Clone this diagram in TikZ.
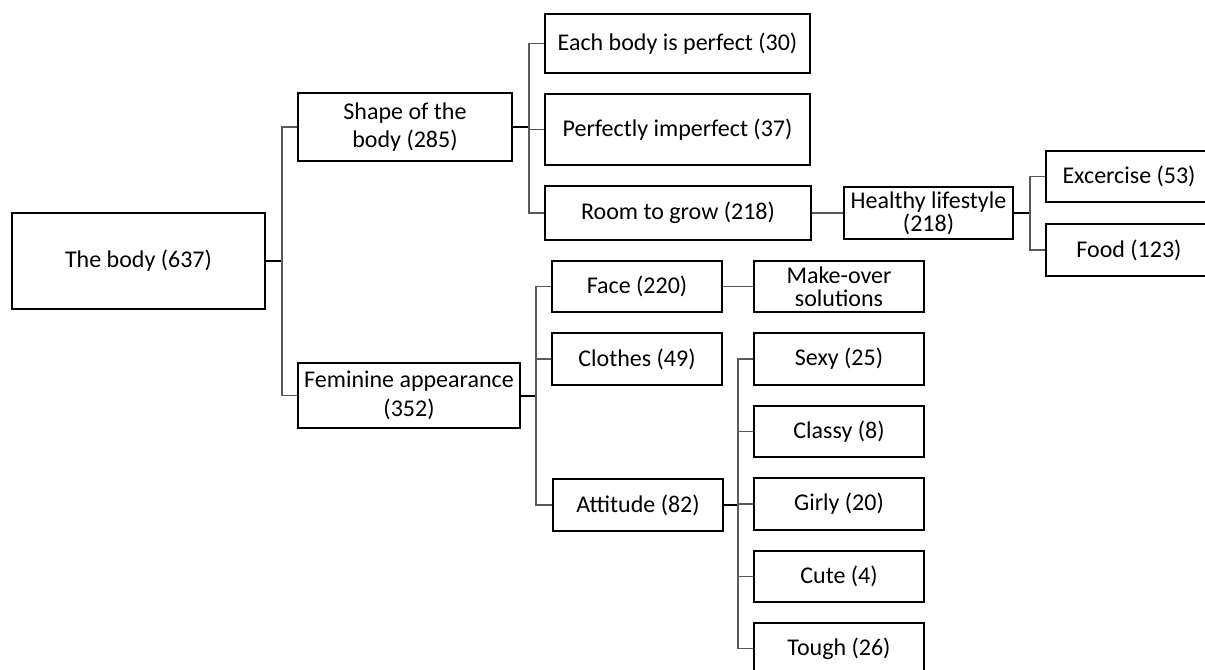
\documentclass[tikz,border=0pt]{standalone}
\usepackage{fontspec}
\setmainfont{Carlito}
\usetikzlibrary{positioning}
\definecolor{cline}{HTML}{595959}
\tikzset{
  every picture/.style={font=\fontsize{18}{21.5}\selectfont},
  box/.style={draw=black, fill=white, line width=1.5pt, align=center, inner sep=1pt},
  leaf/.style={box, minimum width=127.5pt, minimum height=38.5pt},
  wide/.style={box, minimum width=199pt},
  tight/.style={font=\fontsize{18}{17.5}\selectfont},
  stub/.style={draw=black, line width=1.5pt},
  branch/.style={draw=cline, line width=1pt},
}

\begin{document}
\begin{tikzpicture}[x=0.75pt, y=-0.75pt]
  \useasboundingbox (0,0) rectangle (1205,670);
  % root and first level
  \node[box, minimum width=189.75pt, minimum height=72pt] (body) at (138.5,261) {The body (637)};
  \node[box, minimum width=160.5pt, minimum height=51pt] (shape) at (405,127) {Shape of the\\body (285)};
  \node[box, minimum width=166.5pt, minimum height=48.75pt] (fem) at (409,395.5) {Feminine appearance\\(352)};
  \coordinate (j1) at (282,261);
  \draw[stub] (body) -- (j1);
  \draw[branch] (j1) |- (shape.west); \draw[branch] (j1) |- (fem.west);
  % shape of the body
  \node[wide, minimum height=44.25pt] (each) at (677.5,43.5) {Each body is perfect (30)};
  \node[wide, minimum height=53.25pt] (perf) at (677.5,129.5) {Perfectly imperfect (37)};
  \node[wide, minimum height=40.5pt] (room) at (678,213) {Room to grow (218)};
  \coordinate (j2) at (529,127);
  \draw[stub] (shape) -- (j2);
  \draw[branch] (j2) |- (each.west); \draw[branch] (j2) |- (perf.west); \draw[branch] (j2) |- (room.west);
  \node[box, tight, minimum width=126.75pt, minimum height=39pt] (healthy) at (928.5,213) {Healthy lifestyle\\(218)};
  \draw[branch] (room) -- (healthy);
  \node[box, minimum width=124.5pt, minimum height=38.5pt] (exc) at (1129,176.5) {Excercise (53)};
  \node[box, minimum width=124.5pt, minimum height=39pt] (food) at (1129,250) {Food (123)};
  \coordinate (j3) at (1030,213);
  \draw[stub] (healthy) -- (j3);
  \draw[branch] (j3) |- (exc.west); \draw[branch] (j3) |- (food.west);
  % feminine appearance
  \node[leaf] (face) at (637,286.5) {Face (220)};
  \node[leaf] (clothes) at (637,359) {Clothes (49)};
  \node[leaf] (att) at (638,505) {Attitude (82)};
  \coordinate (j4) at (536,395.5);
  \draw[stub] (fem) -- (j4);
  \draw[branch] (j4) |- (face.west); \draw[branch] (j4) |- (clothes.west); \draw[branch] (j4) |- (att.west);
  \node[leaf, tight] (make) at (839,286.5) {Make-over\\solutions};
  \draw[branch] (face) -- (make);
  % attitude
  \node[leaf] (sexy) at (839,359) {Sexy (25)};
  \node[leaf] (classy) at (839,431.5) {Classy (8)};
  \node[leaf] (girly) at (839,504) {Girly (20)};
  \node[leaf] (cute) at (839,576.5) {Cute (4)};
  \node[leaf] (tough) at (839,648.5) {Tough (26)};
  \coordinate (j5) at (738,505);
  \draw[stub] (att) -- (j5);
  \foreach \c in {sexy, classy, girly, cute, tough}
    \draw[branch] (j5) |- (\c.west);
\end{tikzpicture}
\end{document}
